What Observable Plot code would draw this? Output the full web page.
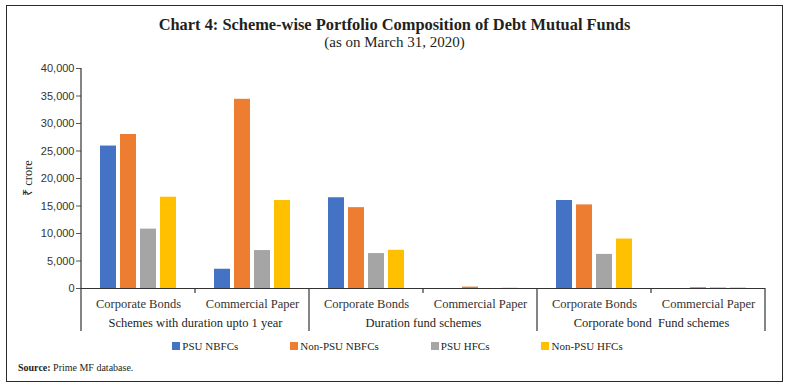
<!DOCTYPE html>
<html><head><meta charset="utf-8">
<script src="https://cdn.jsdelivr.net/npm/d3@7"></script>
<script src="https://cdn.jsdelivr.net/npm/@observablehq/plot@0.6"></script>
<style>
body{margin:0;background:#fff;width:788px;height:388px;position:relative;overflow:hidden;font-family:"Liberation Serif",serif;color:#231f20}
#frame{position:absolute;left:6px;top:5px;width:777px;height:377px;border:1.6px solid #2b2b2b;box-sizing:border-box}
#title{position:absolute;left:0;width:789px;top:17px;text-align:center;font-weight:bold;font-size:16.4px;line-height:16px}
#subtitle{position:absolute;left:0;width:789px;top:35px;text-align:center;font-size:15px;line-height:15px}
#ylabel{position:absolute;left:27px;top:178px;transform:translate(-50%,-50%) rotate(-90deg);font-size:12.5px;white-space:nowrap;font-family:"Liberation Serif",serif}
#chart{position:absolute;left:0;top:55px}
#legend{position:absolute;left:0;width:795px;top:339px;display:flex;justify-content:center;gap:52px;font-size:11px;line-height:14px}
#legend .item{display:flex;align-items:center}
#legend .sw{width:8px;height:8px;margin-right:2px}
#source{position:absolute;left:18px;top:362px;font-size:10px;line-height:12px}
g[aria-label="y-axis tick label"]{font-family:"Liberation Sans",sans-serif;font-size:11px}
g[aria-label="fx-axis tick label"]{font-family:"Liberation Serif",serif;font-size:12.5px}
</style></head>
<body>
<div id="frame"></div>
<div id="title">Chart 4: Scheme-wise Portfolio Composition of Debt Mutual Funds</div>
<div id="subtitle">(as on March 31, 2020)</div>
<div id="ylabel">₹ crore</div>
<div id="chart"></div>
<div id="legend"></div>
<div id="source"><b>Source:</b> Prime MF database.</div>
<script>
const groups = ["Schemes with duration upto 1 year", "Duration fund schemes", "Corporate bond  Fund schemes"];
const instruments = ["Corporate Bonds", "Commercial Paper"];
const series = ["PSU NBFCs", "Non-PSU NBFCs", "PSU HFCs", "Non-PSU HFCs"];
const psuNbfc    = [25900,  3500, 16500,   0, 16000,   0];
const nonPsuNbfc = [28000, 34400, 14700, 250, 15200, 150];
const psuHfc     = [10800,  6900,  6350,   0,  6200, 100];
const nonPsuHfc  = [16600, 16000,  6950,  60,  9000, 100];
const yTicks = [0, 5000, 10000, 15000, 20000, 25000, 30000, 35000, 40000];
const colors = ["#4472C4", "#ED7D31", "#A5A5A5", "#FFC000"];

const seriesValues = [psuNbfc, nonPsuNbfc, psuHfc, nonPsuHfc];
const cats = [];
groups.forEach(g => instruments.forEach(ins => cats.push({key: g + "|" + ins, group: g, instrument: ins})));
const rows = [];
cats.forEach((c, i) => series.forEach((s, j) => rows.push({cat: c.key, series: s, value: seriesValues[j][i]})));
const groupRows = groups.map(g => ({group: g, cat: g + "|" + instruments[0]}));

const chart = Plot.plot({
  width: 788, height: 285,
  marginLeft: 79, marginRight: 21, marginTop: 13, marginBottom: 52,
  style: {fontFamily: "Liberation Serif, serif", color: "#333", background: "transparent"},
  fx: {domain: cats.map(c => c.key), padding: 0, label: null},
  x: {domain: series, paddingInner: 0.2, paddingOuter: 0.84, axis: null},
  y: {domain: [0, 40000], label: null},
  color: {domain: series, range: colors},
  marks: [
    Plot.barY(rows, {fx: "cat", x: "series", y: "value", fill: "series"}),
    Plot.ruleY([0], {stroke: "#333", strokeWidth: 1.2}),
    Plot.axisY({ticks: yTicks, tickSize: 5, tickPadding: 2, tickFormat: d3.format(","), label: null, fontFamily: "Liberation Sans, sans-serif", fontSize: 11, stroke: "#555"}),
    Plot.axisFx({anchor: "bottom", tickSize: 0, tickPadding: 10.5, tickFormat: k => k.split("|")[1], label: null, fontSize: 12.5}),
    Plot.text(groupRows, {fx: "cat", text: "group", frameAnchor: "bottom-right", textAnchor: "middle", dy: 38.5, fontSize: 12.5, fill: "#231f20"})
  ]
});
document.getElementById("chart").appendChild(chart);

// axis line and category separators drawn from Plot's own scales
const fxs = chart.scale("fx"), ys = chart.scale("y");
const fxf = fxs.apply ? (v => fxs.apply(v)) : d3.scaleBand(fxs.domain, fxs.range);
const yf = ys.apply ? (v => ys.apply(v)) : d3.scaleLinear(ys.domain, ys.range);
const bw = fxs.bandwidth != null ? fxs.bandwidth : (fxs.range[1] - fxs.range[0]) / cats.length;
const svg = d3.select(chart);
const g = svg.append("g").attr("stroke", "#333").attr("stroke-width", 1.2);
const x0 = fxf(cats[0].key);
g.append("line").attr("x1", x0).attr("x2", x0).attr("y1", yf(40000)).attr("y2", yf(0));
for (let i = 0; i <= cats.length; i++) {
  const x = i < cats.length ? fxf(cats[i].key) : fxf(cats[cats.length - 1].key) + bw;
  const long = i % instruments.length === 0;
  g.append("line").attr("x1", x).attr("x2", x).attr("y1", yf(0)).attr("y2", yf(0) + (long ? 43 : 5));
}

const lg = document.getElementById("legend");
series.forEach((s, j) => {
  const it = document.createElement("div"); it.className = "item";
  const sw = document.createElement("span"); sw.className = "sw"; sw.style.background = colors[j];
  const t = document.createElement("span"); t.textContent = s;
  it.appendChild(sw); it.appendChild(t); lg.appendChild(it);
});
</script>
</body></html>
